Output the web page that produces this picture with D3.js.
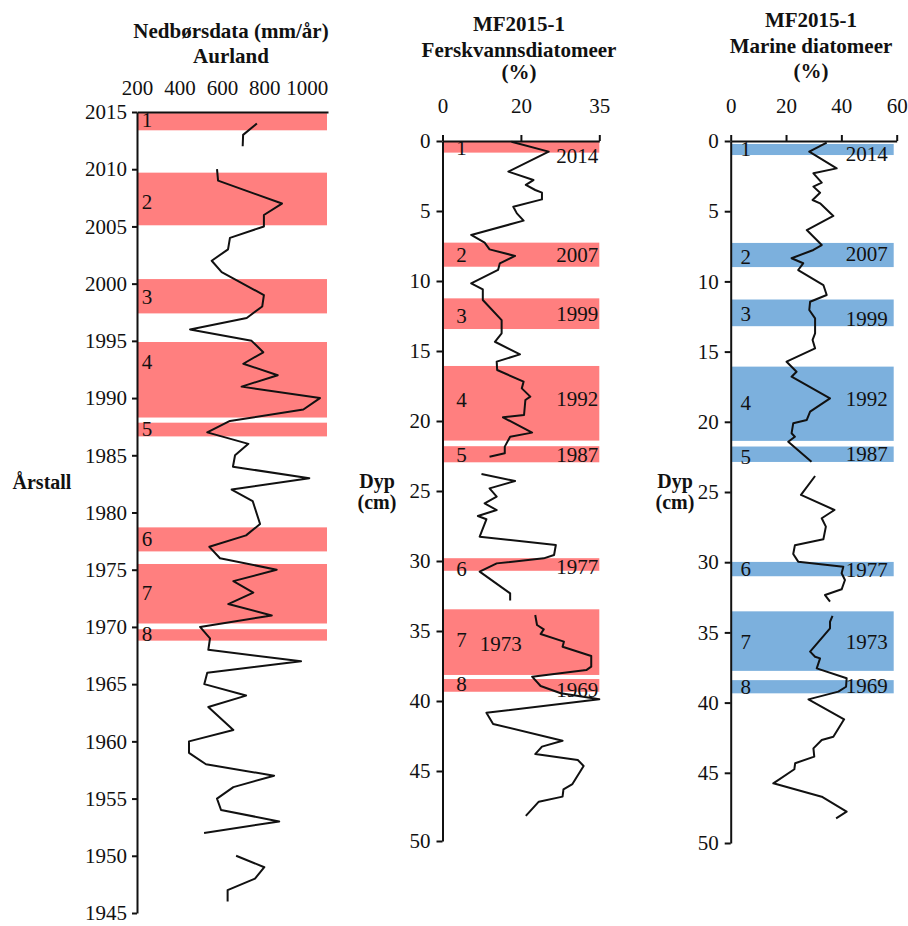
<!DOCTYPE html>
<html>
<head>
<meta charset="utf-8">
<script src="https://cdn.jsdelivr.net/npm/d3@7"></script>
<style>
  body { margin: 0; background: #fff; }
  svg text { font-family: "Liberation Serif", "Times New Roman", serif; fill: #111; }
</style>
</head>
<body>
<svg id="chart" width="908" height="926"></svg>
<script>
// ---------- Nedbør, Aurland (mm/år) ----------
const rainYears = [2014, 2013, 2012, 2011, 2010, 2009, 2007, 2006, 2005, 2004, 2003, 2002, 2001, 1999, 1998, 1997, 1996, 1995, 1994, 1993, 1992, 1991, 1990, 1989, 1988, 1987, 1986, 1985, 1984, 1983, 1982, 1981, 1979, 1978, 1977, 1976, 1975, 1974, 1973, 1972, 1971, 1970, 1969, 1968, 1967, 1966, 1965, 1964, 1963, 1961, 1960, 1959, 1958, 1957, 1956, 1955, 1954, 1953, 1952, 1951, 1950, 1949, 1948, 1947, 1946];
const rainValues = [765, 700, 698, null, 577, 582, 883, 798, 798, 638, 629, 552, 599, 798, 790, 717, 450, 740, 795, 701, 863, 693, 1062, 984, 638, 531, 725, 662, 652, 1012, 646, 745, 780, 714, 541, 591, 858, 654, 748, 630, 835, 497, 544, 536, 973, 531, 517, 714, 536, 654, 445, 445, 525, 846, 654, 577, 596, 870, 516, null, 667, 800, 756, 627, 627];
const rainTicks = [200, 400, 600, 800, 1000];
const yearTicks = [2015, 2010, 2005, 2000, 1995, 1990, 1985, 1980, 1975, 1970, 1965, 1960, 1955, 1950, 1945];
// periods (from year, to year)
const rainBandFrom = [2014.9, 2009.7, 2000.4, 1994.9, 1987.85, 1978.7, 1975.5, 1969.8];
const rainBandTo   = [2013.4, 2005.1, 1997.4, 1988.3, 1986.65, 1976.6, 1970.3, 1968.8];
const rainLabelAt  = [2014.3, 2007.2, 1998.9, 1993.2, 1987.35, 1977.7, 1973.0, 1969.45];

// ---------- MF2015-1 Ferskvannsdiatomeer (%) ----------
const ferskDepth = [0.05, 0.76, 2.19, 2.79, 3.14, 3.5, 3.69, 4.17, 4.69, 5.17, 5.69, 6.71, 7.26, 7.74, 8.21, 8.74, 9.21, 10.17, 10.6, 11.36, 12.79, 13.74, 14.34, 15.24, 15.76, 16.36, 17.19, 17.67, 18.26, 18.5, 19.57, 19.74, 20.83, 21.12, 21.83, 22.31, 22.55, 23.2, 23.79, 24.29, 24.81, 25.4, 25.88, 26.36, 26.79, 27.02, 28.26, 28.86, 29.57, 29.81, 30.17, 30.76, 32.31, 32.83, 33.3, 33.86, 34.57, 34.88, 35.21, 35.76, 36.12, 36.79, 37.55, 37.79, 38.26, 38.93, 39.45, 39.88, 40.84, 41.64, 42.84, 43.26, 43.79, 44.21, 44.64, 45.93, 46.31, 46.83, 47.19, 48.21];
const ferskPct = [15.4, 23.7, 14.7, 20.3, 18.6, 20.7, 22.2, 22.2, 15.8, 16.6, 18.1, 6.4, 9.4, 10.5, 16.2, 12.8, 12.4, 6.4, 9.0, 9.0, 13.2, 13.2, 11.7, 17.3, 12.1, 12.2, 18.1, 17.7, 19.6, 18.5, 18.2, 13.5, 20.0, 15.1, 13.9, 13.9, 10.5, null, 8.7, 16.2, 10.5, 12.1, 9.4, 12.1, 7.9, 9.8, 8.3, 25.3, 24.9, 22.6, 12.1, 8.3, 15.1, 15.1, null, 20.7, 21.1, 22.6, 21.9, 27.1, 26.8, 33.2, 33.2, 32.1, 20.0, 21.9, 26.4, 35.0, 9.8, 11.3, 26.8, 22.2, 20.7, 30.2, 31.5, 29.0, 27.0, 26.8, 21.5, 18.6];
const ferskTicks = [0, 17.5, 35];
const ferskTickLabels = ["0", "20", "35"];

// ---------- MF2015-1 Marine diatomeer (%) ----------
const marineDepth = [0.12, 0.76, 1.95, 2.3, 2.97, 3.25, 3.68, 4.2, 4.44, 5.34, 6.34, 7.41, 7.76, 8.35, 8.71, 9.19, 10.26, 10.97, 11.45, 12.04, 12.63, 13.7, 14.17, 14.77, 15.72, 16.43, 16.79, 18.33, 19.28, 19.87, 20.11, 20.82, 21.06, 21.42, 22.84, 23.3, 23.86, 25.21, 26.28, 26.87, 27.47, 28.37, 28.8, 29.42, 29.96, 30.32, 30.79, 31.27, 31.93, 32.34, 32.81, 33.3, 33.83, 34.24, 34.71, 36.37, 36.73, 36.85, 37.56, 38.27, 38.87, 39.22, 39.77, 41.19, 42.43, 42.66, 43.26, 43.85, 44.32, 44.75, 45.75, 46.7, 47.77, 48.24];
const marinePct = [34.7, 28.4, 38.3, 29.9, 32.9, 29.9, 32.3, 29.6, 32.3, 37.1, 27.5, 32.9, 29.9, 22.0, 26.2, 24.4, 33.5, 34.7, 28.7, 28.4, 30.5, 30.5, 29.6, 30.5, 20.2, 23.8, 22.0, 35.9, 28.7, 27.5, 22.6, 22.0, 23.2, 20.8, 29.2, null, 30.5, 25.4, 37.5, 32.9, 34.4, 33.5, 23.2, 22.6, 24.4, 40.7, 40.1, 41.3, 40.1, 34.1, 35.9, null, 36.8, 35.9, 35.9, 28.7, 30.5, 32.3, 31.1, 41.9, 41.7, 38.9, 28.1, 41.0, 37.1, 32.9, 29.9, 30.2, 23.3, 23.0, 15.4, 32.9, 41.9, 38.1];
const marineTicks = [0, 20, 40, 60];

const depthTicks = [0, 5, 10, 15, 20, 25, 30, 35, 40, 45, 50];

// periods in the core (depth, cm)
const ferskBandFrom = [0, 7.26, 11.24, 16.07, 21.8, 29.8, 33.45, 38.43];
const ferskBandTo   = [0.83, 8.98, 13.43, 21.4, 22.95, 30.7, 38.14, 39.34];
const ferskNumAt    = [0.5, 8.14, 12.5, 18.45, 22.43, 30.52, 35.6, 38.74];
const ferskYearAt   = [1.05, 8.14, 12.36, 18.38, 22.43, 30.4, 35.88, 39.16];
const marineBandFrom = [0.21, 7.26, 11.29, 16.07, 21.76, 29.98, 33.5, 38.4];
const marineBandTo   = [1.0, 8.98, 13.19, 21.36, 22.86, 31.0, 37.74, 39.34];
const marineNumAt    = [0.52, 8.24, 12.27, 18.64, 22.49, 30.44, 35.66, 38.87];
const marineYearAt   = [0.93, 8.0, 12.63, 18.33, 22.3, 30.5, 35.66, 38.82];

const bandNumbers = ["1", "2", "3", "4", "5", "6", "7", "8"];
const bandYears = ["2014", "2007", "1999", "1992", "1987", "1977", "1973", "1969"];

// ---------- drawing ----------
const FONT = '"Liberation Serif", "Times New Roman", serif';
const INK = "#111";
const PINK = "#FF7F7F";
const BLUE = "#7CB0DD";
const svg = d3.select("#chart");

function styleAxis(g) {
  g.attr("font-family", FONT).attr("font-size", 21);
  g.selectAll("path, line").attr("stroke", INK).attr("stroke-width", 2);
  g.selectAll("text").attr("fill", INK);
}

function bold(x, y, str, size) {
  svg.append("text").attr("x", x).attr("y", y).attr("text-anchor", "middle")
    .attr("font-weight", "bold").attr("font-size", size).text(str);
}

function drawBands(g, xs, ys, from, to, color, inset) {
  const [x0, x1] = xs.range();
  g.selectAll("rect.band").data(from.map((f, i) => [f, to[i]])).join("rect")
    .attr("class", "band")
    .attr("x", x0 + 1).attr("width", x1 - x0 - 1 - inset)
    .attr("y", d => ys(d[0])).attr("height", d => ys(d[1]) - ys(d[0]))
    .attr("fill", color);
}

function drawLine(g, xs, ys, pts) {
  const line = d3.line().defined(d => d.v != null).x(d => xs(d.v)).y(d => ys(d.y));
  g.append("path").datum(pts).attr("d", line)
    .attr("fill", "none").attr("stroke", INK).attr("stroke-width", 2)
    .attr("stroke-linejoin", "round");
}

// Panel 1: precipitation vs year
{
  const ys = d3.scaleLinear().domain([2015, 1945]).range([112, 913]);
  const xs = d3.scaleLinear().domain([200, 1100]).range([137, 328]);
  const g = svg.append("g");
  drawBands(g, xs, ys, rainBandFrom, rainBandTo, PINK, 1);
  g.selectAll("text.num").data(bandNumbers).join("text").attr("class", "num")
    .attr("x", xs.range()[0] + 10).attr("y", (d, i) => ys(rainLabelAt[i]))
    .attr("dy", "0.35em").attr("text-anchor", "middle").attr("font-size", 21).text(d => d);
  drawLine(g, xs, ys, rainYears.map((y, i) => ({ y, v: rainValues[i] })));

  svg.append("g").attr("transform", `translate(${xs.range()[0]},0)`)
    .call(d3.axisLeft(ys).tickValues(yearTicks).tickFormat(d3.format("d"))
      .tickSize(5).tickSizeOuter(0).tickPadding(5)).call(styleAxis);
  svg.append("g").attr("transform", `translate(0,${ys.range()[0]})`)
    .call(d3.axisTop(xs).tickValues(rainTicks).tickFormat(d3.format("d"))
      .tickSize(0).tickSizeOuter(0).tickPadding(17))
    .call(styleAxis);

  bold(231, 38, "Nedbørsdata (mm/år)", 21);
  bold(231, 63, "Aurland", 21);
  bold(42, 489, "Årstall", 20);
}

// Panels 2 and 3: diatoms vs depth
function depthPanel(cfg) {
  const ys = d3.scaleLinear().domain([0, 50]).range(cfg.yRange);
  const xs = d3.scaleLinear().domain(cfg.xDomain).range(cfg.xRange);
  const g = svg.append("g");
  drawBands(g, xs, ys, cfg.from, cfg.to, cfg.color, cfg.inset);
  g.selectAll("text.num").data(bandNumbers).join("text").attr("class", "num")
    .attr("x", xs.range()[0] + cfg.numOffset).attr("y", (d, i) => ys(cfg.numAt[i]))
    .attr("dy", "0.35em").attr("text-anchor", "middle").attr("font-size", 21).text(d => d);
  g.selectAll("text.yr").data(bandYears).join("text").attr("class", "yr")
    .attr("x", (d, i) => cfg.yearX(xs, i)).attr("y", (d, i) => ys(cfg.yearAt[i]))
    .attr("dy", "0.35em").attr("text-anchor", "end").attr("font-size", 21).text(d => d);
  drawLine(g, xs, ys, cfg.depth.map((y, i) => ({ y, v: cfg.values[i] })));

  svg.append("g").attr("transform", `translate(${xs.range()[0]},0)`)
    .call(d3.axisLeft(ys).tickValues(depthTicks).tickSize(6).tickSizeOuter(0).tickPadding(6))
    .call(styleAxis);
  svg.append("g").attr("transform", `translate(0,${ys.range()[0]})`)
    .call(d3.axisTop(xs).tickValues(cfg.ticks).tickFormat(cfg.tickFormat)
      .tickSize(6).tickSizeOuter(0).tickPadding(22))
    .call(styleAxis);

  cfg.title.forEach((t, i) => bold(cfg.titleX, cfg.titleY[i], t, 21));
  bold(cfg.dypX, 488, "Dyp", 20);
  bold(cfg.dypX, 509, "(cm)", 20);
}

depthPanel({
  yRange: [141, 841], xDomain: [0, 35], xRange: [442.5, 599.3],
  from: ferskBandFrom, to: ferskBandTo, color: PINK, inset: 0,
  numAt: ferskNumAt, yearAt: ferskYearAt, numOffset: 19,
  yearX: (xs, i) => bandYears[i] === "1973" ? xs(17.7) : xs.range()[1] - 1,
  depth: ferskDepth, values: ferskPct,
  ticks: ferskTicks, tickFormat: (d, i) => ferskTickLabels[i],
  title: ["MF2015-1", "Ferskvannsdiatomeer", "(%)"], titleX: 519, titleY: [31, 57, 79],
  dypX: 377
});

depthPanel({
  yRange: [141, 843], xDomain: [0, 60], xRange: [730.7, 896.7],
  from: marineBandFrom, to: marineBandTo, color: BLUE, inset: 3,
  numAt: marineNumAt, yearAt: marineYearAt, numOffset: 15,
  yearX: (xs, i) => xs.range()[1] - 9,
  depth: marineDepth, values: marinePct,
  ticks: marineTicks, tickFormat: d3.format("d"),
  title: ["MF2015-1", "Marine diatomeer", "(%)"], titleX: 811, titleY: [27, 53, 78],
  dypX: 675
});
</script>
</body>
</html>
